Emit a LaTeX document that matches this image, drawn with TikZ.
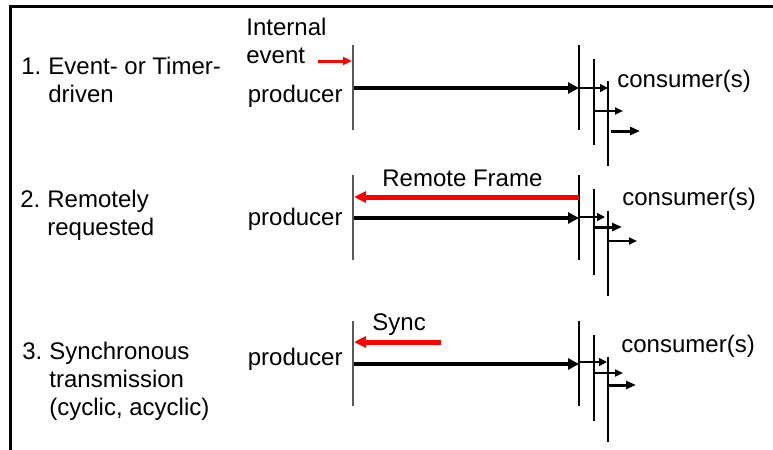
\documentclass[tikz,border=0pt]{standalone}
\usepackage{fontspec}
\setmainfont{Liberation Sans}
\usetikzlibrary{arrows.meta}

\begin{document}
\begin{tikzpicture}[x=0.5pt,y=-0.5pt,
font=\fontsize{12}{14}\selectfont,
lbl/.style={inner sep=0pt, anchor=base west},
item/.style={inner sep=0pt, anchor=north west, align=left},
frame/.style={line width=1.25pt},
prodline/.style={draw=black!65, line width=0.6pt},
consline/.style={draw=black, line width=0.55pt},
bigarrow/.style={-{Triangle[length=5.5pt,width=5.5pt]}, line width=2.25pt},
thinarrow/.style={-{Triangle[length=4pt,width=4pt]}, line width=0.8pt},
medarrow/.style={-{Triangle[length=4pt,width=3.5pt]}, line width=1pt},
fatarrow/.style={-{Triangle[length=5pt,width=4pt]}, line width=1.5pt},
evarrow/.style={red, -{Triangle[length=4.5pt,width=4pt]}, line width=1.5pt},
reqarrow/.style={red, -{Triangle[length=6pt,width=5.5pt]}, line width=2.5pt}
]
\useasboundingbox (0,0) rectangle (773,450);

% frame, open to the right and bottom
\coordinate (frTR) at (773,6.5);
\coordinate (frTL) at (10.5,6.5);
\coordinate (frBL) at (10.5,450);
\draw[frame] (frTR) -- (frTL) -- (frBL);

% time lines of producer and consumers
\foreach \r/\y in {1/88,2/218,3/364}{
  \coordinate (p\r) at (354,\y);
  \coordinate (c\r) at (579,\y);
  \draw[prodline] (353,{\y-43}) -- (353,{\y+42});
  \draw[consline] (579,{\y-43}) -- (579,{\y+42});
  \draw[consline] (594,{\y-29}) -- (594,{\y+57});
  \draw[consline] (608,{\y-7}) -- (608,{\y+78});
  \draw[bigarrow] (p\r) -- (c\r);
}

% 1. event or timer driven
\node[item] (mode1) at (21,57) {\makebox[13.5pt][l]{1.}Event- or Timer-\\\hspace*{13.5pt}driven};
\node[item] (evtxt) at (246,18) {Internal\\event};
\node[lbl, anchor=base east] (prod1) at (343,102) {producer};
\node[lbl] (cons1) at (617,87) {consumer(s)};
\coordinate (ev1) at (318,61);
\coordinate (ev2) at (352,61);
\draw[evarrow] (ev1) -- (ev2);
\coordinate (a1s) at (579,88);  \coordinate (a1e) at (608,88);
\coordinate (b1s) at (594,111); \coordinate (b1e) at (623,111);
\coordinate (d1s) at (611,131); \coordinate (d1e) at (640,131);
\draw[thinarrow] (a1s) -- (a1e);
\draw[medarrow] (b1s) -- (b1e);
\draw[fatarrow] (d1s) -- (d1e);

% 2. remotely requested
\node[item] (mode2) at (20,190) {\makebox[13.5pt][l]{2.}Remotely\\\hspace*{13.5pt}requested};
\node[lbl, anchor=base east] (prod2) at (343,225) {producer};
\node[lbl] (cons2) at (622,205) {consumer(s)};
\node[lbl] (rtr) at (382,186) {Remote Frame};
\coordinate (rq1) at (579,197);
\coordinate (rq2) at (354,197);
\draw[reqarrow] (rq1) -- (rq2);
\coordinate (a2s) at (579,217); \coordinate (a2e) at (605,217);
\coordinate (b2s) at (594,227); \coordinate (b2e) at (622,227);
\coordinate (d2s) at (608,241); \coordinate (d2e) at (637,241);
\draw[thinarrow] (a2s) -- (a2e);
\draw[fatarrow] (b2s) -- (b2e);
\draw[medarrow] (d2s) -- (d2e);

% 3. synchronous transmission
\node[item] (mode3) at (22,342) {\makebox[13.5pt][l]{3.}Synchronous\\\hspace*{13.5pt}transmission\\\hspace*{13.5pt}(cyclic, acyclic)};
\node[lbl, anchor=base east] (prod3) at (343,365) {producer};
\node[lbl] (cons3) at (621,352) {consumer(s)};
\node[lbl] (sync) at (372,330) {Sync};
\coordinate (sy1) at (441,342);
\coordinate (sy2) at (354,342);
\draw[reqarrow] (sy1) -- (sy2);
\coordinate (a3s) at (579,362); \coordinate (a3e) at (607,362);
\coordinate (b3s) at (594,373); \coordinate (b3e) at (623,373);
\coordinate (d3s) at (607,385); \coordinate (d3e) at (636,385);
\draw[thinarrow] (a3s) -- (a3e);
\draw[medarrow] (b3s) -- (b3e);
\draw[fatarrow] (d3s) -- (d3e);
\end{tikzpicture}
\end{document}
